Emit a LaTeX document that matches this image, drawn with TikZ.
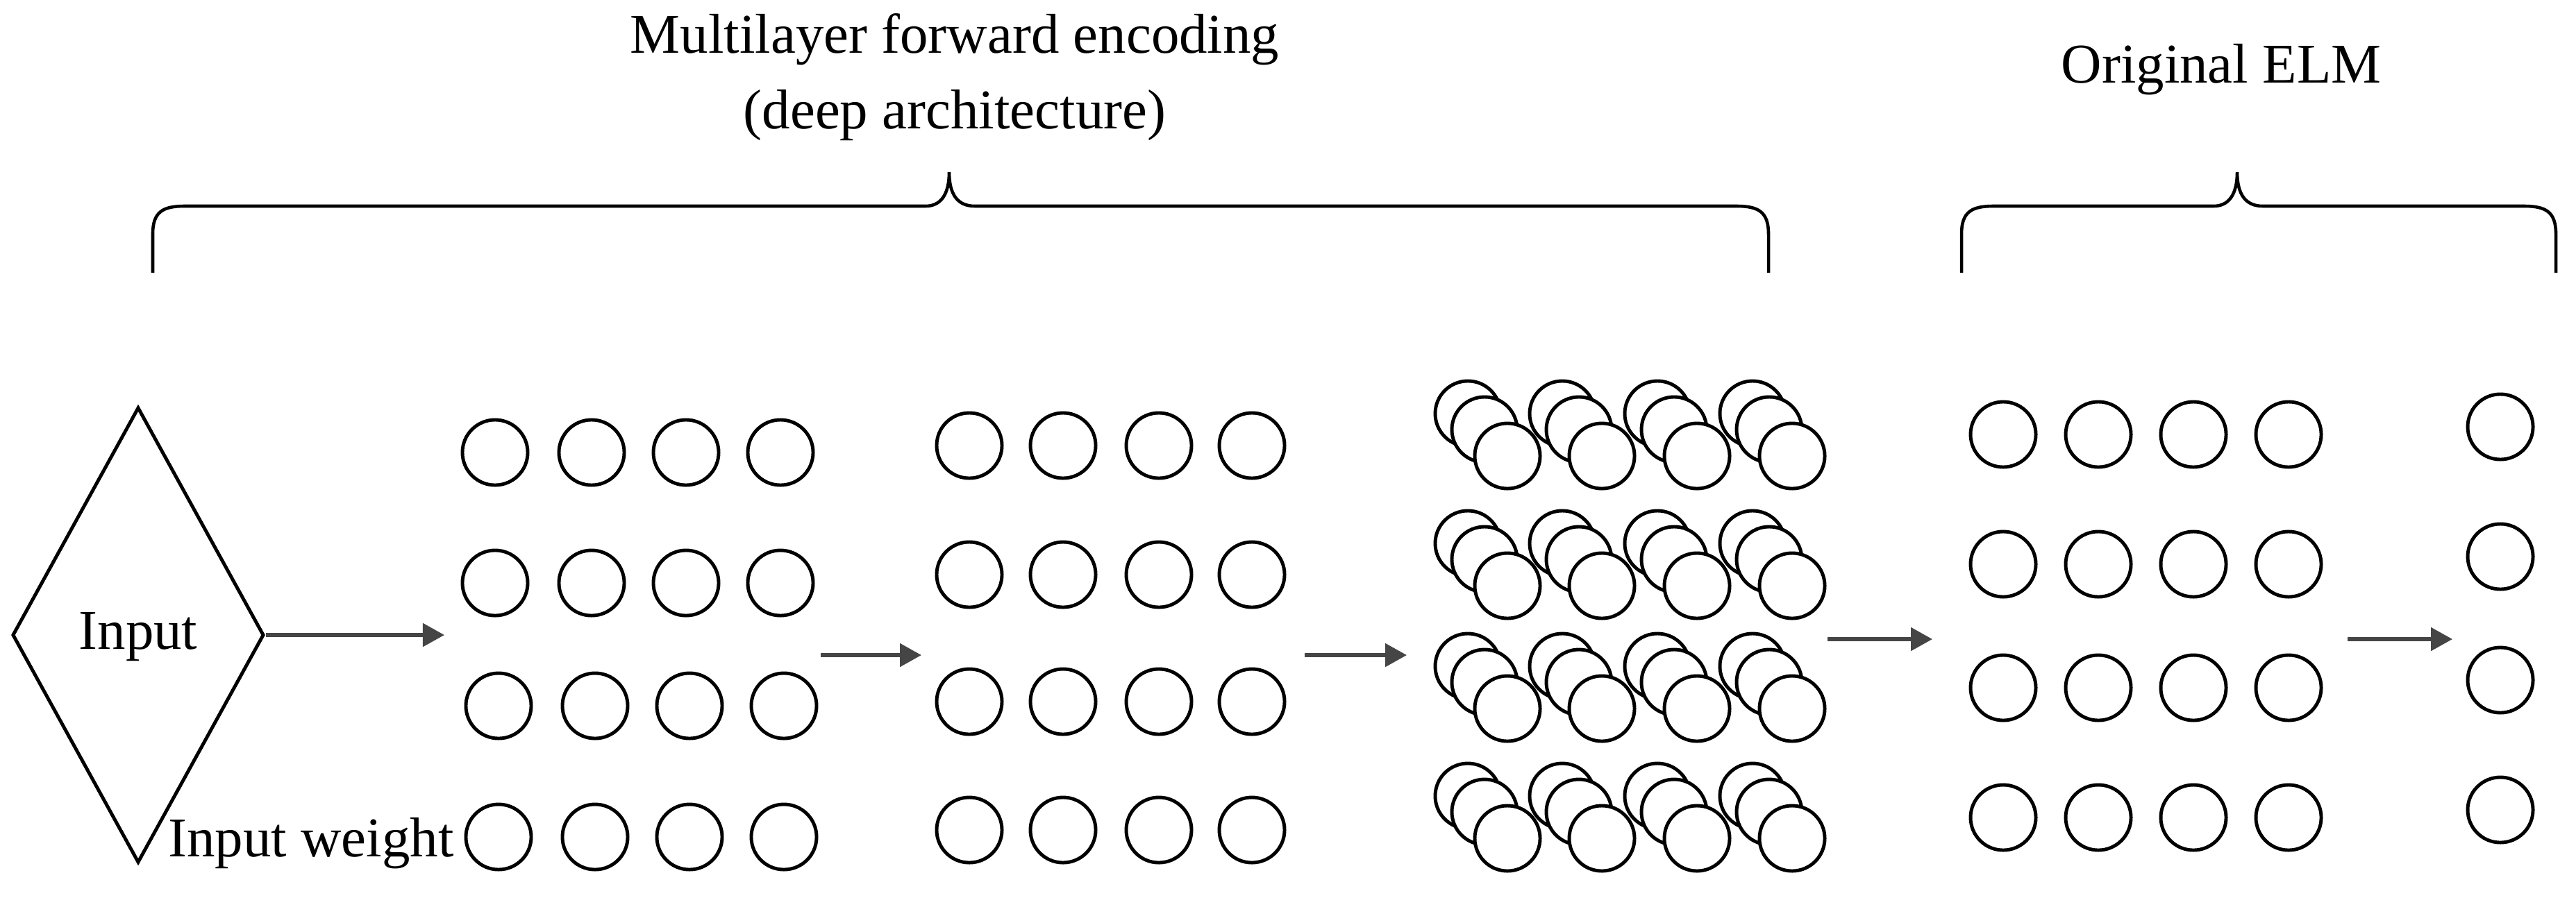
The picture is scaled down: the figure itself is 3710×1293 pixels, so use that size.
\documentclass[tikz,border=0pt]{standalone}
\usepackage{fontspec}
\setmainfont{Liberation Serif}
\usetikzlibrary{shapes.geometric,arrows.meta}
\newcommand{\mybrace}[3]{%
 \draw[line width=1.3pt] (#1,393) -- (#1,337) .. controls (#1,305) and ({#1+15},297) .. ({#1+46},297)
  -- ({#2-34},297) .. controls ({#2-12},297) and (#2,280) .. (#2,248)
  .. controls (#2,280) and ({#2+12},297) .. ({#2+37},297)
  -- ({#3-46},297) .. controls ({#3-15},297) and (#3,305) .. (#3,337) -- (#3,393);}
\begin{document}
\begin{tikzpicture}[x=0.01cm,y=-0.01cm,
  nd/.style={draw,circle,minimum size=0.94cm,inner sep=0pt,line width=1.4pt,fill=white},
  ar/.style={draw=black!73,line width=1.5pt,-{Triangle[length=0.31cm,width=0.33cm]}},
  lbl/.style={font=\fontsize{23}{31}\selectfont,align=center}]
\useasboundingbox (0,0) rectangle (3710,1293);
% braces
\mybrace{220}{1367}{2547}
\mybrace{2825}{3222}{3681}
\node[lbl] (t1) at (1375,111) {Multilayer forward encoding\\(deep architecture)};
\node[lbl] (t2) at (3199,100) {Original ELM};
% input
\node[draw,diamond,minimum width=3.62cm,minimum height=6.56cm,inner sep=0pt,line width=1.4pt,lbl] (in) at (199,915) {};
\node[lbl] (intext) at (199,918) {Input};
\node[lbl] (iw) at (448,1215) {Input weight};
% layer 1
\foreach \c/\x in {1/713,2/852,3/988,4/1124}{
  \node[nd] (a1\c) at (\x,652) {};
  \node[nd] (a2\c) at (\x,840) {};
  \node[nd] (a3\c) at (\x+5,1017) {};
  \node[nd] (a4\c) at (\x+5,1206) {};}
% layer 2
\foreach \c/\x in {1/1396,2/1531,3/1669,4/1803}{
  \foreach \r/\y in {1/642,2/828,3/1011,4/1196}{
    \node[nd] (b\r\c) at (\x,\y) {};}}
% layer 3 (stacked)
\foreach \c/\x in {1/2171,2/2307,3/2444,4/2581}{
  \foreach \r/\y in {1/657,2/844,3/1021,4/1208}{
    \node[nd] (cb\r\c) at (\x-57,\y-61) {};
    \node[nd] (cm\r\c) at (\x-33,\y-38) {};
    \node[nd] (cf\r\c) at (\x,\y) {};}}
% layer 4
\foreach \c/\x in {1/2885,2/3022,3/3159,4/3296}{
  \foreach \r/\y in {1/626,2/813,3/991,4/1178}{
    \node[nd] (d\r\c) at (\x,\y) {};}}
% output
\foreach \r/\y in {1/615,2/802,3/980,4/1167}{
  \node[nd] (o\r) at (3601,\y) {};}
% arrows
\coordinate (e1) at (640,915);
\coordinate (s2) at (1182,944); \coordinate (e2) at (1327,944);
\coordinate (s3) at (1879,944); \coordinate (e3) at (2026,944);
\coordinate (s4) at (2632,921); \coordinate (e4) at (2783,921);
\coordinate (s5) at (3381,921); \coordinate (e5) at (3532,921);
\draw[ar] (in.east) -- (e1);
\draw[ar] (s2) -- (e2);
\draw[ar] (s3) -- (e3);
\draw[ar] (s4) -- (e4);
\draw[ar] (s5) -- (e5);
\end{tikzpicture}
\end{document}
